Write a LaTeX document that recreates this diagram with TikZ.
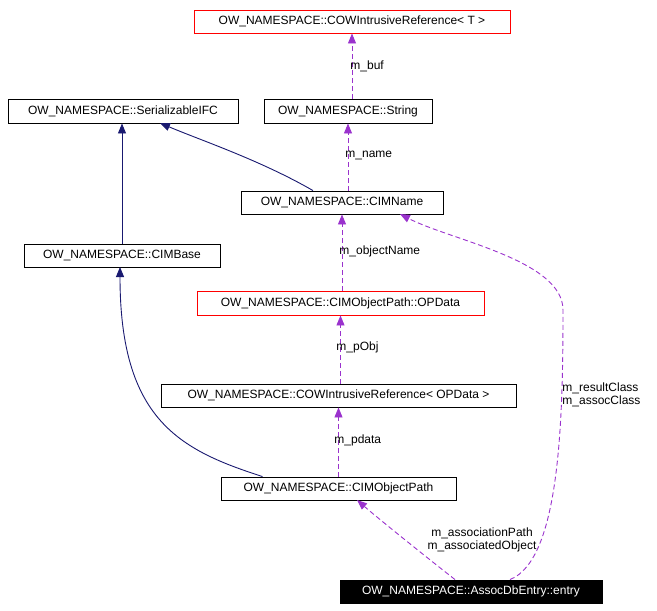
\documentclass[tikz,border=0pt]{standalone}
\usepackage{fontspec}
\setmainfont{Liberation Sans}
\usetikzlibrary{arrows.meta}
\definecolor{purp}{HTML}{9A32CD}
\definecolor{nav}{HTML}{191970}
\begin{document}
\begin{tikzpicture}[x=1pt,y=-1pt,line width=0.9pt,
  box/.style={draw=black,fill=white,inner sep=0pt,font=\fontsize{12}{13.5}\selectfont},
  rbox/.style={box,draw=red},
  lab/.style={font=\fontsize{12}{13.5}\selectfont,inner sep=1pt,align=left,anchor=west},
  use/.style={draw=purp,dash pattern=on 5pt off 3pt,-{Triangle[length=10pt,width=8pt,fill=purp]}},
  inh/.style={draw=nav,-{Triangle[length=10pt,width=8pt,fill=nav]}}]
\useasboundingbox (0,0) rectangle (657,611);
\node[rbox,minimum width=316pt,minimum height=23pt] (cowt) at (352,21.5) {OW\_NAMESPACE::COWIntrusiveReference< T >};
\node[box,minimum width=168pt,minimum height=24pt] (str) at (348,111) {OW\_NAMESPACE::String};
\node[box,minimum width=230pt,minimum height=24pt] (ser) at (123,111) {OW\_NAMESPACE::SerializableIFC};
\node[box,minimum width=202pt,minimum height=23pt] (cim) at (342,202.5) {OW\_NAMESPACE::CIMName};
\node[box,minimum width=196pt,minimum height=23pt] (base) at (122,255.5) {OW\_NAMESPACE::CIMBase};
\node[rbox,minimum width=287pt,minimum height=24pt] (opd) at (340.5,303) {OW\_NAMESPACE::CIMObjectPath::OPData};
\node[box,minimum width=355pt,minimum height=23pt] (cowo) at (338.5,395.5) {OW\_NAMESPACE::COWIntrusiveReference< OPData >};
\node[box,minimum width=235pt,minimum height=23pt] (cop) at (338.5,488.5) {OW\_NAMESPACE::CIMObjectPath};
\node[box,fill=black,text=white,minimum width=262pt,minimum height=23pt] (ent) at (471,591.5) {OW\_NAMESPACE::AssocDbEntry::entry};

\draw[use] (str.north -| cowt.south) -- (cowt.south);
\node[lab] (l1) at (349,66) {m\_buf};
\draw[use] (cim.north -| str.south) -- (str.south);
\node[lab] (l2) at (344,155) {m\_name};
\draw[inh] ([xshift=-29pt]cim.north) .. controls (260,160) and (200,140) .. (160,123);
\draw[inh] (base.north) -- (base.north |- ser.south);
\draw[use] (opd.north -| cim.south) -- (cim.south);
\node[lab] (l3) at (338,251) {m\_objectName};
\draw[use] (cowo.north -| opd.south) -- (opd.south);
\node[lab] (l4) at (335,347) {m\_pObj};
\draw[use] (cop.north) -- (cowo.south);
\node[lab] (l5) at (333,440) {m\_pdata};
\draw[inh] ([xshift=-76pt]cop.north) .. controls (180,450) and (120,420) .. (120,267);
\draw[use] ([xshift=-16pt]ent.north) .. controls (430,560) and (380,520) .. (357,500);
\node[lab,align=center,anchor=center] (l6) at (482,540) {m\_associationPath\\m\_associatedObject};
\draw[use] ([xshift=39pt]ent.north) .. controls (560,560) and (563,420) .. (563,310)
  .. controls (563,260) and (450,240) .. (400,214);
\node[lab,align=left] (l7) at (561,395) {m\_resultClass\\m\_assocClass};
\end{tikzpicture}
\end{document}
